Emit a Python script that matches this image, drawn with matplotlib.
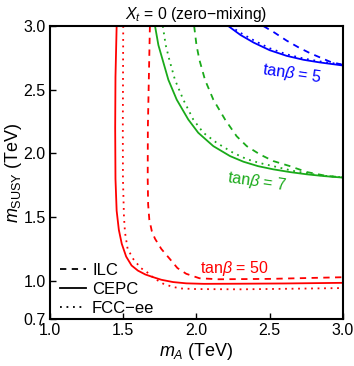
import matplotlib
matplotlib.use('Agg')
import matplotlib.pyplot as plt

plt.rcParams['font.family'] = ['Liberation Sans', 'DejaVu Sans']
plt.rcParams['mathtext.fontset'] = 'custom'
plt.rcParams['mathtext.rm'] = 'Liberation Sans'
plt.rcParams['mathtext.it'] = 'Liberation Sans:italic'

#tanb = 50 (red)
red_cepc_x = [1.455, 1.447, 1.445, 1.447, 1.455, 1.47, 1.49, 1.52, 1.557, 1.60, 1.65, 1.70, 1.76, 1.84, 1.93, 2.05, 2.3, 2.6, 3.0]
red_cepc_y = [3.0, 2.6, 2.2, 1.8, 1.55, 1.4, 1.29, 1.19, 1.12, 1.08, 1.05, 1.03, 1.008, 0.99, 0.98, 0.976, 0.977, 0.979, 0.984]
red_fcc_x = [1.50, 1.497, 1.498, 1.505, 1.512, 1.53, 1.569, 1.62, 1.66, 1.71, 1.773, 1.83, 1.887, 2.0, 2.3, 2.6, 3.0]
red_fcc_y = [3.0, 2.2, 1.8, 1.5, 1.38, 1.25, 1.17, 1.10, 1.07, 1.02, 0.977, 0.955, 0.94, 0.935, 0.933, 0.937, 0.943]
red_ilc_x = [1.682, 1.675, 1.668, 1.667, 1.670, 1.678, 1.695, 1.717, 1.76, 1.819, 1.87, 1.93, 2.02, 2.15, 2.5, 3.0]
red_ilc_y = [3.0, 2.6, 2.2, 1.8, 1.6, 1.48, 1.39, 1.33, 1.25, 1.17, 1.10, 1.055, 1.02, 1.012, 1.015, 1.028]

#tanb = 7 (green)
grn_cepc_x = [1.717, 1.74, 1.769, 1.808, 1.865, 1.944, 2.012, 2.115, 2.229, 2.32, 2.42, 2.524, 2.64, 2.752, 2.87, 3.0]
grn_cepc_y = [3.0, 2.85, 2.734, 2.578, 2.422, 2.266, 2.162, 2.057, 1.979, 1.935, 1.90, 1.875, 1.853, 1.836, 1.822, 1.81]
grn_fcc_x = [1.77, 1.79, 1.815, 1.853, 1.91, 1.978, 2.047, 2.138, 2.25, 2.343, 2.43, 2.524, 2.65, 2.76, 2.865, 3.0]
grn_fcc_y = [3.0, 2.85, 2.734, 2.578, 2.422, 2.266, 2.162, 2.083, 2.005, 1.955, 1.925, 1.9, 1.865, 1.842, 1.825, 1.812]
grn_ilc_x = [1.984, 2.0, 2.02, 2.058, 2.115, 2.195, 2.274, 2.343, 2.433, 2.524, 2.638, 2.752, 2.889, 3.0]
grn_ilc_y = [3.0, 2.85, 2.734, 2.578, 2.422, 2.266, 2.135, 2.057, 1.992, 1.94, 1.90, 1.854, 1.823, 1.812]

#tanb = 5 (blue)
blu_cepc_x = [2.217, 2.30, 2.39, 2.50, 2.615, 2.73, 2.843, 3.0]
blu_cepc_y = [3.0, 2.93, 2.87, 2.81, 2.766, 2.735, 2.714, 2.69]
blu_fcc_x = [2.228, 2.31, 2.40, 2.50, 2.615, 2.73, 2.843, 3.0]
blu_fcc_y = [3.0, 2.94, 2.882, 2.825, 2.778, 2.745, 2.722, 2.697]
blu_ilc_x = [2.456, 2.53, 2.616, 2.70, 2.775, 2.85, 2.911, 3.0]
blu_ilc_y = [3.0, 2.95, 2.885, 2.83, 2.787, 2.75, 2.72, 2.695]

xticks = [1.0, 1.5, 2.0, 2.5, 3.0]
yticks = [0.7, 1.0, 1.5, 2.0, 2.5, 3.0]

red = '#ff0000'
green = '#1aaa1a'
blue = '#0000ff'
dash = (0, (3.5, 3.0))
dot = (0, (1.0, 2.6))
lw = 1.3

fig = plt.figure(figsize=(3.54, 3.66), dpi=100)
ax = fig.add_axes([0.1412, 0.1284, 0.8277, 0.8005])

ax.plot(red_cepc_x, red_cepc_y, color=red, lw=lw)
ax.plot(red_fcc_x, red_fcc_y, color=red, lw=lw, linestyle=dot)
ax.plot(red_ilc_x, red_ilc_y, color=red, lw=lw, linestyle=dash)
ax.plot(grn_cepc_x, grn_cepc_y, color=green, lw=lw)
ax.plot(grn_fcc_x, grn_fcc_y, color=green, lw=lw, linestyle=dot)
ax.plot(grn_ilc_x, grn_ilc_y, color=green, lw=lw, linestyle=dash)
ax.plot(blu_cepc_x, blu_cepc_y, color=blue, lw=lw)
ax.plot(blu_fcc_x, blu_fcc_y, color=blue, lw=lw, linestyle=dot)
ax.plot(blu_ilc_x, blu_ilc_y, color=blue, lw=lw, linestyle=dash)

ax.text(2.65, 2.625, r'tan$\beta$ = 5', color=blue, fontsize=11.5, rotation=-8, ha='center', va='center')
ax.text(2.41, 1.775, r'tan$\beta$ = 7', color=green, fontsize=11.5, rotation=-8, ha='center', va='center')
ax.text(2.26, 1.094, r'tan$\beta$ = 50', color=red, fontsize=11.5, ha='center', va='center')

# legend
l1, = ax.plot([], [], color='k', lw=lw, linestyle=dash)
l2, = ax.plot([], [], color='k', lw=lw)
l3, = ax.plot([], [], color='k', lw=lw, linestyle=dot)
ax.legend((l1, l2, l3), ('ILC', 'CEPC', 'FCC\u2212ee'), loc='lower left', frameon=False,
          fontsize=12, handlelength=1.6, handletextpad=0.35, labelspacing=0.25,
          borderaxespad=0.0, bbox_to_anchor=(0.01, -0.012))

ax.set_xlim(1.0, 3.0)
ax.set_ylim(0.7, 3.0)
ax.set_xticks(xticks)
ax.set_yticks(yticks)
ax.set_xticklabels(['%.1f' % v for v in xticks])
ax.set_yticklabels(['%.1f' % v for v in yticks])
ax.tick_params(direction='in', length=4, width=1, labelsize=11.5, colors='k', pad=3)
for s in ax.spines.values():
    s.set_linewidth(1.5)

ax.set_title(r'$X_t$ = 0 (zero$-$mixing)', fontsize=11.3, pad=5)
ax.set_xlabel(r'$m_A$ (TeV)', fontsize=13, labelpad=2)
ax.set_ylabel(r'$m_{\mathrm{SUSY}}$ (TeV)', fontsize=13, labelpad=0)

fig.savefig('out.png', dpi=100)
